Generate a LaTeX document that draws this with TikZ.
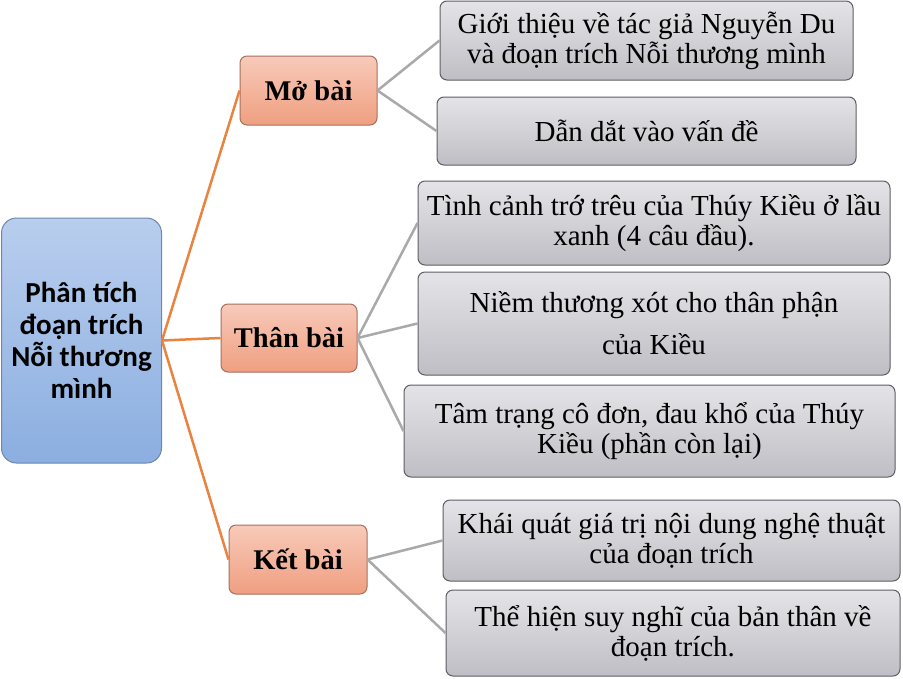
\documentclass[tikz,border=0pt]{standalone}
\usepackage{fontspec}
\setmainfont{Liberation Serif}
\newfontfamily\rootfont{Carlito}
\usetikzlibrary{calc}

\definecolor{rootTop}{HTML}{B9CEEE}
\definecolor{rootBot}{HTML}{8BAEE0}
\definecolor{rootLine}{HTML}{6F86AE}
\definecolor{partTop}{HTML}{F8CABA}
\definecolor{partBot}{HTML}{EF9F80}
\definecolor{partLine}{HTML}{A8705E}
\definecolor{itemTop}{HTML}{E4E4E8}
\definecolor{itemBot}{HTML}{BEBEC4}
\definecolor{itemLine}{HTML}{5E5E64}
\definecolor{orangeLink}{HTML}{EA8240}
\definecolor{grayLink}{HTML}{A9A9AB}

\tikzset{
  rootbox/.style={rectangle, rounded corners=15pt, draw=rootLine, line width=1pt,
    top color=rootTop, bottom color=rootBot, align=center,
    font=\rootfont\bfseries\fontsize{29}{32}\selectfont},
  partbox/.style={rectangle, rounded corners=7pt, draw=partLine, line width=1pt,
    top color=partTop, bottom color=partBot, align=center,
    font=\bfseries\fontsize{28.5}{32}\selectfont},
  itembox/.style={rectangle, rounded corners=7pt, draw=itemLine, line width=1pt,
    top color=itemTop, bottom color=itemBot, align=center, inner sep=2pt,
    font=\fontsize{29}{30}\selectfont},
  orangelink/.style={draw=orangeLink, line width=2.5pt},
  graylink/.style={draw=grayLink, line width=2.5pt}
}

\begin{document}
\begin{tikzpicture}[x=1pt, y=-1pt]
\useasboundingbox[fill=white] (0,0) rectangle (903,678);

% root
\node[rootbox, minimum width=160pt, minimum height=245pt] (root) at (81.5,340.5)
  {Phân tích\\đoạn trích\\Nỗi thương\\mình};

% parts
\node[partbox, minimum width=137pt, minimum height=69pt] (mo) at (308.5,90.5) {Mở bài};
\node[partbox, minimum width=136pt, minimum height=68pt] (than) at (289,338) {Thân bài};
\node[partbox, minimum width=138pt, minimum height=69pt] (ket) at (298,559.5) {Kết bài};

% items
\node[itembox, minimum width=413pt, minimum height=79pt] (gioithieu) at (646.5,40.5)
  {Giới thiệu về tác giả Nguyễn Du\\và đoạn trích Nỗi thương mình};
\node[itembox, minimum width=419pt, minimum height=68pt] (dandat) at (646.5,131)
  {Dẫn dắt vào vấn đề};
\node[itembox, minimum width=472pt, minimum height=84pt] (tinhcanh) at (654,223)
  {Tình cảnh trớ trêu của Thúy Kiều ở lầu\\xanh (4 câu đầu).};
\node[itembox, minimum width=472pt, minimum height=103pt] (niemthuong) at (654,323.5)
  {Niềm thương xót cho thân phận\\[12pt]của Kiều};
\node[itembox, minimum width=491pt, minimum height=92pt] (tamtrang) at (649.5,431)
  {Tâm trạng cô đơn, đau khổ của Thúy\\Kiều (phần còn lại)};
\node[itembox, minimum width=457pt, minimum height=81pt] (khaiquat) at (671.5,540.5)
  {Khái quát giá trị nội dung nghệ thuật\\của đoạn trích};
\node[itembox, minimum width=454pt, minimum height=86pt] (thehien) at (673,633)
  {Thể hiện suy nghĩ của bản thân về\\đoạn trích.};

% links
\draw[orangelink] (root.east) -- (mo.west);
\draw[orangelink] (root.east) -- (than.west);
\draw[orangelink] (root.east) -- (ket.west);

\draw[graylink] (mo.east) -- (gioithieu.west);
\draw[graylink] (mo.east) -- (dandat.west);
\draw[graylink] (than.east) -- (tinhcanh.west);
\draw[graylink] (than.east) -- (niemthuong.west);
\draw[graylink] (than.east) -- (tamtrang.west);
\draw[graylink] (ket.east) -- (khaiquat.west);
\draw[graylink] (ket.east) -- (thehien.west);
\end{tikzpicture}
\end{document}
